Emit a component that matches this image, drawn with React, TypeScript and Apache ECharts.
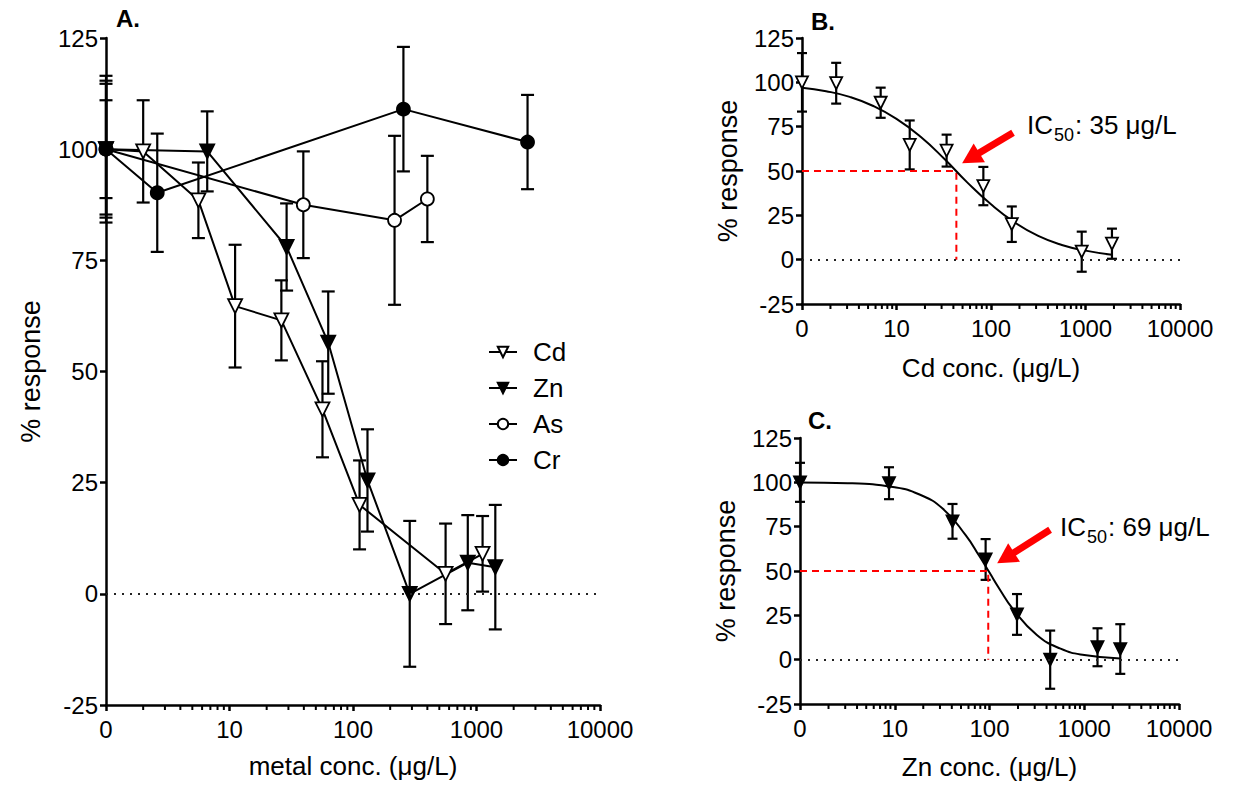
import React, { useEffect, useRef } from "react";
import * as echarts from "echarts";

// ---------- Panel A data (metal conc. µg/L, % response, SD) ----------
const cdConcA = [1, 2.0, 5.6, 11.1, 26.3, 56.6, 113, 562, 1120];
const cdResp = [100, 99.5, 88.5, 64.7, 61.5, 41.5, 20, 4.5, 9];
const cdErr = [16.5, 11.5, 8.5, 13.8, 9, 10.8, 10, 11.3, 8.5];

const znConcA = [1, 6.6, 29, 63, 131, 288, 850, 1420];
const znResp = [100, 99.5, 78, 56.5, 25.5, 0, 7, 6];
const znErr = [11, 9, 9.8, 11.5, 11.5, 16.4, 10.7, 14];

const asConcA = [1, 39.6, 217, 400];
const asResp = [100, 87.5, 84, 88.8];
const asErr = [15.4, 12, 19, 9.7];

const crConcA = [1, 2.6, 256, 2590];
const crResp = [100, 90.2, 109, 101.6];
const crErr = [14.7, 13.3, 14, 10.6];

// ---------- Panels B / C (positions as plotted there) ----------
const cdConcB = [1, 2.3, 6.8, 13.8, 33.9, 83, 166, 912, 1905];
const znConcC = [1, 8.7, 40.7, 91, 195, 437, 1380, 2400];

const cdFitConc = [1, 1.8, 3.2, 5.6, 10, 18, 32, 56, 100, 178, 316, 562, 1000, 1905];
const cdFitResp = [97.0, 95.0, 91.8, 86.8, 79.4, 69.3, 56.9, 43.6, 31.2, 21.0, 13.4, 8.3, 5.1, 2.8];
const znFitConc = [1, 3.2, 10, 18, 32, 56, 79, 100, 126, 178, 316, 562, 1000, 2400];
const znFitResp = [99.9, 99.5, 97.2, 93.3, 85.2, 70.2, 58, 49.1, 40.3, 28.3, 13.9, 6.2, 2.6, 0.7];

const cdIC50Label = "35";
const znIC50Label = "69";
const cdIC50Drop = 43; // where the dashed guide drops in panel B
const znIC50Drop = 97; // where the dashed guide drops in panel C
const cdArrow = [[171, 71.6], [61, 57.3]];
const znArrow = [[436, 73.3], [148, 57.4]];

const xTicks = [1, 10, 100, 1000, 10000];
const yTicks = [-25, 0, 25, 50, 75, 100, 125];

const FONT = "Liberation Sans, Arial, sans-serif";

function minorTickValues(): number[] {
  const out: number[] = [];
  for (let d = 1; d < 10000; d *= 10) for (let k = 2; k <= 9; k++) out.push(d * k);
  return out;
}

function zip(xs: number[], ys: number[]) {
  return xs.map((x, i) => [x, ys[i]]);
}
function errData(xs: number[], ys: number[], es: number[]) {
  return xs.map((x, i) => [x, ys[i] - es[i], ys[i] + es[i]]);
}

function errSeries(idx: number, data: number[][], cap: number) {
  return {
    type: "custom",
    xAxisIndex: idx,
    yAxisIndex: idx,
    silent: true,
    clip: false,
    z: 1,
    encode: { x: 0, y: [1, 2] },
    data,
    renderItem: (_p: any, api: any) => {
      const x = api.value(0);
      const lo = api.coord([x, api.value(1)]);
      const hi = api.coord([x, api.value(2)]);
      const w = cap / 2;
      const st = { stroke: "#000", lineWidth: 2.2 };
      return {
        type: "group",
        children: [
          { type: "line", shape: { x1: lo[0], y1: lo[1], x2: hi[0], y2: hi[1] }, style: st },
          { type: "line", shape: { x1: lo[0] - w, y1: lo[1], x2: lo[0] + w, y2: lo[1] }, style: st },
          { type: "line", shape: { x1: hi[0] - w, y1: hi[1], x2: hi[0] + w, y2: hi[1] }, style: st },
        ],
      };
    },
  };
}

function dataSeries(idx: number, name: string, data: number[][], kind: "tri" | "circ", filled: boolean, size: number) {
  return {
    type: "line",
    name,
    xAxisIndex: idx,
    yAxisIndex: idx,
    data,
    z: 3,
    symbol: kind === "tri" ? "triangle" : "circle",
    symbolRotate: kind === "tri" ? 180 : 0,
    symbolSize: size,
    showSymbol: true,
    lineStyle: { color: "#000", width: 2 },
    itemStyle: { color: filled ? "#000" : "#fff", borderColor: "#000", borderWidth: 1.8, opacity: 1 },
  };
}

function minorTickSeries(idx: number) {
  return {
    type: "scatter",
    xAxisIndex: idx,
    yAxisIndex: idx,
    silent: true,
    clip: false,
    z: 5,
    symbol: "rect",
    symbolSize: [2, 4],
    symbolOffset: [0, 3],
    itemStyle: { color: "#000", opacity: 1 },
    data: minorTickValues().map((v) => [v, yTicks[0]]),
  };
}

function zeroLine(idx: number) {
  return {
    type: "line",
    xAxisIndex: idx,
    yAxisIndex: idx,
    data: [],
    silent: true,
    markLine: {
      silent: true,
      symbol: ["none", "none"],
      label: { show: false },
      lineStyle: { color: "#222", type: [2, 6], width: 2 },
      data: [{ yAxis: 0 }],
    },
  };
}

function xAxis(idx: number, name: string, gap: number) {
  return {
    type: "log",
    logBase: 10,
    gridIndex: idx,
    min: xTicks[0],
    max: xTicks[xTicks.length - 1],
    name,
    nameLocation: "middle",
    nameGap: gap,
    nameTextStyle: { color: "#000", fontSize: 26, fontFamily: FONT },
    axisLine: { show: true, onZero: false, lineStyle: { color: "#000", width: 2.5 } },
    axisTick: { show: true, length: 6, lineStyle: { color: "#000", width: 2.5 } },
    minorTick: { show: false },
    splitLine: { show: false },
    axisLabel: {
      color: "#000",
      fontSize: 24,
      fontFamily: FONT,
      margin: 12,
      formatter: (v: number) => (v === xTicks[0] ? "0" : String(v)),
    },
  };
}

function yAxis(idx: number, gap: number) {
  return {
    type: "value",
    gridIndex: idx,
    min: yTicks[0],
    max: yTicks[yTicks.length - 1],
    interval: 25,
    name: "% response",
    nameLocation: "middle",
    nameGap: gap,
    nameTextStyle: { color: "#000", fontSize: 27, fontFamily: FONT },
    axisLine: { show: true, onZero: false, lineStyle: { color: "#000", width: 2.5 } },
    axisTick: { show: true, length: 6, lineStyle: { color: "#000", width: 2.5 } },
    splitLine: { show: false },
    axisLabel: { color: "#000", fontSize: 24, fontFamily: FONT, margin: 8 },
  };
}

function icLabel(value: string) {
  return `{n|IC}{s|50}{n|: ${value} μg/L}`;
}

function arrowMark(pts: number[][]) {
  return {
    silent: true,
    symbol: ["none", "triangle"],
    symbolSize: [22, 20],
    label: { show: false },
    lineStyle: { color: "#ff0000", width: 7, type: "solid" },
    data: [[{ coord: pts[0] }, { coord: pts[1] }]],
  };
}

export default function App() {
  const ref = useRef<HTMLDivElement>(null);
  useEffect(() => {
    document.body.style.margin = "0";
    if (!ref.current) return;
    const chart = echarts.init(ref.current, undefined, { renderer: "svg" });
    const rich = {
      n: { fontSize: 26, fontFamily: FONT, color: "#000", lineHeight: 30, verticalAlign: "bottom" },
      s: { fontSize: 18, fontFamily: FONT, color: "#555", lineHeight: 30, verticalAlign: "bottom", padding: [0, 1, -6, 1] },
    };
    const titleStyle = { fontSize: 24, fontWeight: "bold", color: "#000", fontFamily: FONT };
    const option: any = {
      animation: false,
      backgroundColor: "#fff",
      textStyle: { fontFamily: FONT },
      title: [
        { text: "A.", left: 111, top: 1, textStyle: titleStyle },
        { text: "B.", left: 806, top: 4, textStyle: titleStyle },
        { text: "C.", left: 803, top: 403, textStyle: titleStyle },
      ],
      grid: [
        { left: 106, top: 38, width: 494, height: 667 },
        { left: 802, top: 38, width: 378, height: 266 },
        { left: 800, top: 438, width: 379, height: 266 },
      ],
      xAxis: [
        xAxis(0, "metal conc. (μg/L)", 48),
        xAxis(1, "Cd conc. (μg/L)", 51),
        xAxis(2, "Zn conc. (μg/L)", 50),
      ],
      yAxis: [yAxis(0, 62), yAxis(1, 61), yAxis(2, 61)],
      legend: {
        data: ["Cd", "Zn", "As", "Cr"],
        orient: "vertical",
        left: 488,
        top: 339,
        padding: 0,
        itemWidth: 28,
        itemHeight: 13,
        itemGap: 10,
        textStyle: { fontSize: 26, fontFamily: FONT, color: "#000", padding: [0, 0, 0, 11] },
      },
      graphic: [
        { type: "text", left: 1027, top: 112, style: { text: icLabel(cdIC50Label), rich } },
        { type: "text", left: 1060, top: 514, style: { text: icLabel(znIC50Label), rich } },
      ],
      series: [
        zeroLine(0),
        zeroLine(1),
        zeroLine(2),
        minorTickSeries(0),
        minorTickSeries(1),
        minorTickSeries(2),
        // Panel A
        errSeries(0, errData(cdConcA, cdResp, cdErr), 13),
        errSeries(0, errData(znConcA, znResp, znErr), 13),
        errSeries(0, errData(asConcA, asResp, asErr), 13),
        errSeries(0, errData(crConcA, crResp, crErr), 13),
        dataSeries(0, "Cd", zip(cdConcA, cdResp), "tri", false, 14),
        dataSeries(0, "Zn", zip(znConcA, znResp), "tri", true, 14),
        dataSeries(0, "As", zip(asConcA, asResp), "circ", false, 13),
        dataSeries(0, "Cr", zip(crConcA, crResp), "circ", true, 13),
        // Panel B
        {
          type: "line",
          xAxisIndex: 1,
          yAxisIndex: 1,
          data: [[xTicks[0], 50], [cdIC50Drop, 50], [cdIC50Drop, 0]],
          symbol: "none",
          silent: true,
          z: 2,
          lineStyle: { color: "#ff0000", width: 2, type: [7, 5] },
        },
        errSeries(1, errData(cdConcB, cdResp, cdErr), 10),
        {
          type: "line",
          xAxisIndex: 1,
          yAxisIndex: 1,
          data: zip(cdFitConc, cdFitResp),
          smooth: true,
          symbol: "none",
          z: 2,
          lineStyle: { color: "#000", width: 2 },
        },
        {
          type: "scatter",
          xAxisIndex: 1,
          yAxisIndex: 1,
          data: zip(cdConcB, cdResp),
          symbol: "triangle",
          symbolRotate: 180,
          symbolSize: 12,
          z: 4,
          itemStyle: { color: "#fff", borderColor: "#000", borderWidth: 1.8, opacity: 1 },
          markLine: arrowMark(cdArrow),
        },
        // Panel C
        {
          type: "line",
          xAxisIndex: 2,
          yAxisIndex: 2,
          data: [[xTicks[0], 50], [znIC50Drop, 50], [znIC50Drop, 0]],
          symbol: "none",
          silent: true,
          z: 2,
          lineStyle: { color: "#ff0000", width: 2, type: [7, 5] },
        },
        errSeries(2, errData(znConcC, znResp, znErr), 10),
        {
          type: "line",
          xAxisIndex: 2,
          yAxisIndex: 2,
          data: zip(znFitConc, znFitResp),
          smooth: true,
          symbol: "none",
          z: 2,
          lineStyle: { color: "#000", width: 2 },
        },
        {
          type: "scatter",
          xAxisIndex: 2,
          yAxisIndex: 2,
          data: zip(znConcC, znResp),
          symbol: "triangle",
          symbolRotate: 180,
          symbolSize: 12,
          z: 4,
          itemStyle: { color: "#000", borderColor: "#000", borderWidth: 1.8, opacity: 1 },
          markLine: arrowMark(znArrow),
        },
      ],
    };
    chart.setOption(option);
    return () => chart.dispose();
  }, []);
  return <div ref={ref} style={{ width: 1251, height: 788 }} />;
}
